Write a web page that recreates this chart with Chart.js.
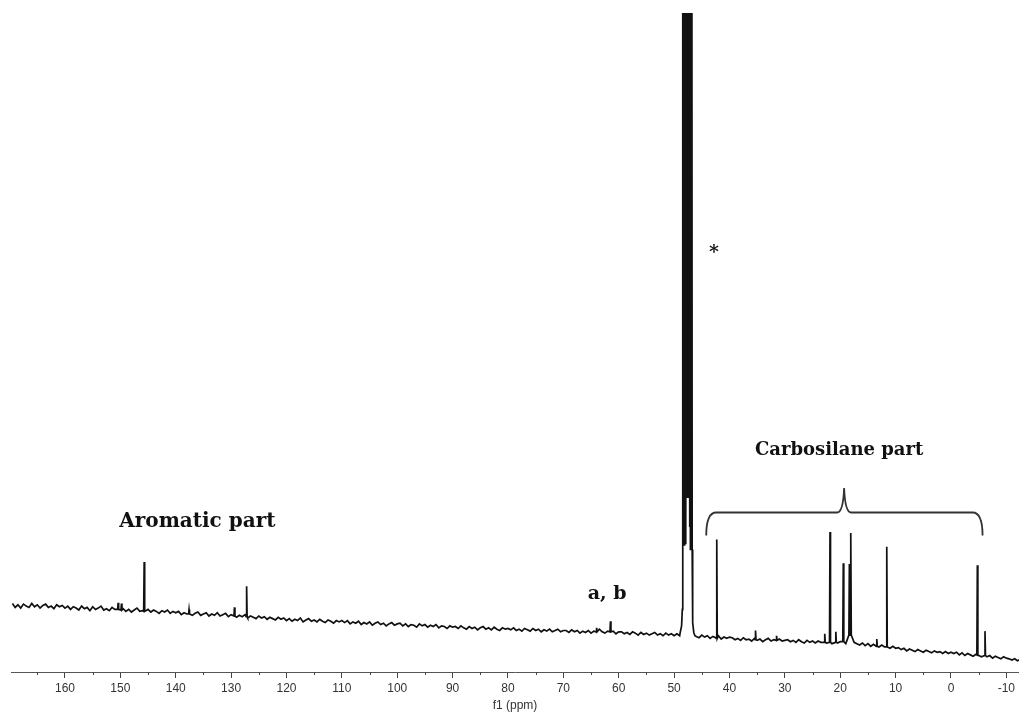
<!DOCTYPE html>
<html>
<head>
<meta charset="utf-8">
<title>13C NMR</title>
<script src="https://cdn.jsdelivr.net/npm/chart.js@4.4.0/dist/chart.umd.min.js"></script>
<style>
  html, body { margin: 0; padding: 0; background: #fff; }
  #wrap { position: relative; width: 1019px; height: 713px; }
</style>
</head>
<body>
<div id="wrap"><canvas id="nmr"></canvas></div>
<script>
// x axis (ppm), reversed as usual for NMR
const xMin = -12.28;
const xMax = 169.75;
const xStep = 5;

// baseline, read every 0.5 ppm from 169.5 down to -12.5
const baseStart = 169.5;
const baseStep = 0.5;
const baseline = [
  10.4, 9.8, 10.2, 9.7, 10.3, 10.0, 9.8, 10.4, 9.9, 10.2, 9.7, 10.1, 10.3, 9.8, 10.0, 9.6, 10.2, 9.9, 10.1, 9.7,
  10.0, 9.5, 9.9, 9.7, 9.4, 10.0, 9.6, 9.8, 9.3, 9.9, 9.5, 9.7, 10.0, 9.4, 9.6, 9.3, 9.8, 9.5, 9.7, 9.2,
  9.6, 9.2, 9.5, 9.1, 9.4, 9.7, 9.2, 9.3, 9.0, 9.5, 9.1, 9.4, 9.2, 8.9, 9.3, 9.1, 9.4, 8.9, 9.2, 9.0,
  9.2, 8.7, 9.0, 8.8, 9.2, 8.6, 8.9, 9.1, 8.6, 8.8, 9.0, 8.5, 8.8, 8.6, 9.0, 8.5, 8.7, 8.9, 8.4, 8.7,
  8.7, 8.3, 8.6, 8.4, 8.7, 8.2, 8.5, 8.3, 8.1, 8.5, 8.2, 8.4, 8.0, 8.3, 8.1, 7.9, 8.3, 8.0, 8.2, 7.8,
  8.1, 7.7, 8.0, 7.8, 8.2, 7.6, 7.9, 8.1, 7.7, 7.9, 7.6, 8.0, 7.7, 7.5, 7.9, 7.7, 7.4, 7.8, 7.6, 7.8,
  7.5, 7.8, 7.3, 7.6, 7.4, 7.7, 7.2, 7.5, 7.3, 7.6, 7.1, 7.4, 7.6, 7.2, 7.4, 7.0, 7.3, 7.5, 7.1, 7.3,
  7.4, 7.0, 7.3, 6.9, 7.2, 7.1, 6.8, 7.3, 7.0, 7.2, 6.8, 7.1, 6.9, 7.2, 6.7, 7.0, 6.9, 6.6, 7.0, 6.8,
  6.9, 6.6, 7.0, 6.7, 6.5, 6.9, 6.6, 6.8, 6.4, 6.7, 6.9, 6.5, 6.7, 6.4, 6.8, 6.5, 6.3, 6.7, 6.5, 6.6,
  6.4, 6.7, 6.3, 6.5, 6.2, 6.6, 6.4, 6.2, 6.6, 6.3, 6.5, 6.1, 6.4, 6.2, 6.5, 6.1, 6.3, 6.5, 6.1, 6.3,
  6.3, 6.0, 6.4, 6.1, 6.3, 5.9, 6.2, 6.0, 6.3, 5.9, 6.2, 6.0, 6.5, 6.1, 5.9, 6.2, 6.0, 6.2, 5.8, 6.1,
  6.1, 5.8, 6.0, 5.7, 6.1, 5.9, 5.6, 6.0, 5.7, 5.9, 5.6, 5.8, 6.0, 5.6, 5.8, 5.5, 5.9, 5.6, 5.8, 5.5,
  5.8, 5.5, 5.7, 5.4, 5.6, 5.5, 5.6, 5.4, 5.2, 5.6, 5.3, 5.5, 5.1, 5.4, 5.2, 5.5, 5.0, 5.3, 5.1, 5.3,
  5.2, 4.9, 5.1, 4.8, 5.2, 4.9, 5.0, 4.7, 5.1, 4.8, 5.0, 4.6, 4.9, 5.1, 4.7, 4.9, 4.6, 5.0, 4.7, 4.8,
  4.9, 4.6, 4.8, 4.5, 4.9, 4.6, 4.4, 4.8, 4.5, 4.7, 4.4, 4.7, 4.5, 4.8, 4.4, 4.6, 4.3, 4.6, 4.4, 4.6,
  4.7, 4.3, 4.6, 4.2, 4.5, 4.3, 4.1, 4.4, 4.0, 4.3, 3.9, 4.2, 4.0, 3.8, 4.1, 3.8, 3.9, 3.6, 3.9, 3.6,
  3.7, 3.4, 3.6, 3.2, 3.5, 3.3, 3.1, 3.4, 3.2, 3.0, 3.3, 3.1, 2.9, 3.2, 3.0, 3.1, 2.8, 3.1, 2.8, 3.0,
  2.8, 3.0, 2.6, 2.9, 2.5, 2.8, 2.6, 2.4, 2.7, 2.5, 2.3, 2.6, 2.3, 2.5, 2.1, 2.4, 2.2, 2.0, 2.3, 2.1,
  2.0, 1.8, 2.0, 1.7, 1.9
];

// sharp signals: position, top and local foot
const peakPpm  = [150.4, 149.8, 145.7, 137.6, 129.4, 127.2, 64.0, 61.5, 42.3, 35.3, 31.5, 22.8, 21.85, 20.8, 19.45, 18.35, 18.1, 13.4, 11.6, -4.76, -6.14];
const peakTop  = [10.5, 10.4, 16.7, 9.5, 9.8, 13.0, 6.7, 7.7, 20.1, 6.3, 5.5, 5.8, 21.25, 6.1, 16.5, 16.4, 21.1, 5.0, 19.0, 16.2, 6.2];
const peakFoot = [9.5, 9.4, 9.2, 8.8, 8.5, 8.4, 6.1, 6.1, 5.1, 4.9, 4.8, 4.5, 4.5, 4.5, 4.6, 5.6, 5.6, 3.9, 3.8, 2.6, 2.5];

// solvent septet (off scale, clipped at the top)
const solventPpm = [48.9, 48.65, 48.52, 48.46, 48.42, 48.34, 48.26, 48.18, 48.10, 48.02, 47.94, 47.86, 47.78, 47.70, 47.62, 47.54, 47.46, 47.38, 47.30, 47.22, 47.14, 47.06, 46.98, 46.90, 46.82, 46.74, 46.70, 46.6, 46.45, 46.25];
const solventVal = [6.0, 7.0, 9.5, 11.6, 160, 19.3, 160, 19.3, 160, 19.5, 160, 22.0, 160, 26.4, 160, 26.4, 160, 26.4, 160, 22.0, 160, 18.6, 160, 18.6, 160, 18.6, 10.9, 7.5, 6.0, 5.5];

const peakHalf = 0.09;

function buildSpectrum() {
  const pts = [];
  baseline.forEach((v, i) => {
    const x = +(baseStart - i * baseStep).toFixed(2);
    if (x < 49.0 && x > 46.2) return;
    if (peakPpm.some((p) => Math.abs(p - x) < 0.2)) return;
    pts.push({ x, y: v });
  });
  peakPpm.forEach((p, i) => {
    pts.push({ x: p + peakHalf, y: peakFoot[i] }, { x: p, y: peakTop[i] }, { x: p - peakHalf, y: peakFoot[i] });
  });
  solventPpm.forEach((p, i) => pts.push({ x: p, y: solventVal[i] }));
  pts.sort((a, b) => b.x - a.x);
  return pts;
}

const serifFamily = '"DejaVu Serif", serif';

// labels, brace and minor ticks, placed in data coordinates
const annotate = {
  id: 'annotate',
  afterDraw(chart) {
    const { ctx, scales: { x, y }, chartArea } = chart;
    ctx.save();

    // minor ticks
    ctx.strokeStyle = '#444';
    ctx.lineWidth = 1;
    x.ticks.forEach((t) => {
      if (t.value % 10 === 0) return;
      const px = Math.round(x.getPixelForValue(t.value)) + 0.5;
      ctx.beginPath();
      ctx.moveTo(px, chartArea.bottom);
      ctx.lineTo(px, chartArea.bottom + 3);
      ctx.stroke();
    });

    ctx.fillStyle = '#111';
    ctx.textAlign = 'center';
    ctx.textBaseline = 'alphabetic';
    ctx.font = 'bold 20px ' + serifFamily;
    ctx.fillText('Aromatic part', x.getPixelForValue(136.1), y.getPixelForValue(22.0));
    ctx.font = 'bold 18px ' + serifFamily;
    ctx.fillText('Carbosilane part', x.getPixelForValue(20.2), y.getPixelForValue(33.0));
    ctx.font = 'bold 19px ' + serifFamily;
    ctx.fillText('a, b', x.getPixelForValue(62.1), y.getPixelForValue(11.07));
    ctx.textBaseline = 'middle';
    ctx.fillText('*', x.getPixelForValue(42.8), y.getPixelForValue(63.6));

    // curly brace over the carbosilane signals
    const L = x.getPixelForValue(44.2), T = x.getPixelForValue(19.3), R = x.getPixelForValue(-5.7);
    const yh = y.getPixelForValue(24.2), ye = y.getPixelForValue(20.7), yt = y.getPixelForValue(27.9);
    ctx.strokeStyle = '#333';
    ctx.lineWidth = 1.8;
    ctx.beginPath();
    ctx.moveTo(L, ye);
    ctx.quadraticCurveTo(L, yh, L + 10, yh);
    ctx.lineTo(T - 7, yh);
    ctx.quadraticCurveTo(T - 1, yh, T, yt);
    ctx.quadraticCurveTo(T + 1, yh, T + 7, yh);
    ctx.lineTo(R - 10, yh);
    ctx.quadraticCurveTo(R, yh, R, ye);
    ctx.stroke();

    ctx.restore();
  }
};

new Chart(document.getElementById('nmr'), {
  type: 'scatter',
  data: {
    datasets: [{
      data: buildSpectrum(),
      showLine: true,
      borderColor: '#111',
      borderWidth: 1.7,
      pointRadius: 0,
      tension: 0
    }]
  },
  options: {
    responsive: true,
    maintainAspectRatio: false,
    animation: false,
    events: [],
    layout: { padding: { top: 13, left: 11, right: 0, bottom: 0.2 } },
    plugins: {
      legend: { display: false },
      tooltip: { enabled: false }
    },
    scales: {
      x: {
        type: 'linear',
        reverse: true,
        min: xMin,
        max: xMax,
        border: { display: true, color: '#555', width: 1 },
        grid: {
          display: true,
          drawOnChartArea: false,
          drawTicks: true,
          tickLength: 6,
          tickColor: (c) => (c.tick && c.tick.value % 10 === 0 ? '#444' : 'rgba(0,0,0,0)')
        },
        ticks: {
          stepSize: xStep,
          includeBounds: false,
          autoSkip: false,
          maxRotation: 0,
          padding: 3,
          color: '#333',
          font: { family: '"Liberation Sans Narrow", "Liberation Sans", sans-serif', size: 12 },
          callback: (v) => (v % 10 === 0 ? String(v) : '')
        },
        title: {
          display: true,
          text: 'f1 (ppm)',
          color: '#333',
          padding: { top: 0, bottom: 0 },
          font: { family: '"Liberation Sans", sans-serif', size: 12 }
        }
      },
      y: {
        display: false,
        min: 0,
        max: 100
      }
    }
  },
  plugins: [annotate]
});
</script>
</body>
</html>
